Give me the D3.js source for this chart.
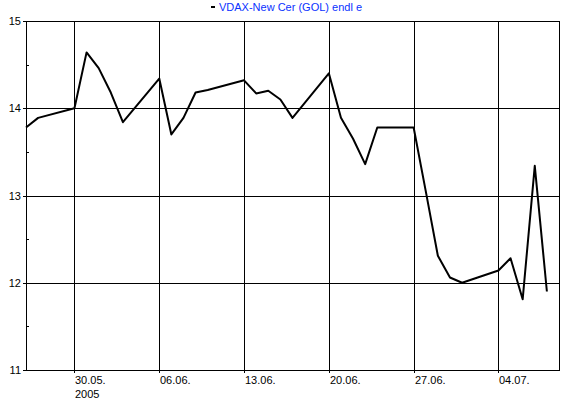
<!DOCTYPE html>
<html>
<head>
<meta charset="utf-8">
<script src="https://cdn.jsdelivr.net/npm/d3@7"></script>
<style>
  body { margin: 0; background: #fff; }
  text { font-family: "Liberation Sans", Arial, sans-serif; font-size: 11px; }
</style>
</head>
<body>
<div id="chart"></div>
<script>
// closing values, one per trading day
let dates = ["2005-05-26", "2005-05-27", "2005-05-30", "2005-05-31", "2005-06-01", "2005-06-02", "2005-06-03",
    "2005-06-06", "2005-06-07", "2005-06-08", "2005-06-09", "2005-06-10",
    "2005-06-13", "2005-06-14", "2005-06-15", "2005-06-16", "2005-06-17",
    "2005-06-20", "2005-06-21", "2005-06-22", "2005-06-23", "2005-06-24",
    "2005-06-27", "2005-06-28", "2005-06-29", "2005-06-30", "2005-07-01",
    "2005-07-04", "2005-07-05", "2005-07-06", "2005-07-07", "2005-07-08"]
let values = [13.78, 13.89, 14.0, 14.64, 14.46, 14.18, 13.84,
    14.34, 13.70, 13.89, 14.18, 14.21,
    14.32, 14.17, 14.20, 14.10, 13.89,
    14.40, 13.89, 13.65, 13.36, 13.78,
    13.78, 13.05, 12.31, 12.06, 12.0,
    12.14, 12.28, 11.81, 13.34, 11.9]
let xTicks = ["2005-05-30", "2005-06-06", "2005-06-13", "2005-06-20", "2005-06-27", "2005-07-04"]
let xTickLabels = ["30.05.", "06.06.", "13.06.", "20.06.", "27.06.", "04.07."]
let yTicks = [11, 12, 13, 14, 15]
let yMinorTicks = [11.5, 12.5, 13.5, 14.5]
let title = "VDAX-New Cer (GOL) endl e"

createVis()

function createVis() {
    var width = 570, height = 400
    var left = 26, right = 559, top = 21, bottom = 370
    var parse = d3.utcParse("%Y-%m-%d")

    var data = dates.map(function (d, i) { return { date: parse(d), value: values[i] } })

    var svg = d3.select("#chart").append("svg")
        .attr("width", width)
        .attr("height", height)

    var x = d3.scaleUtc()
        .domain([parse("2005-05-26"), parse("2005-07-09")])
        .range([left, right])
    var y = d3.scaleLinear()
        .domain([11, 15])
        .range([bottom, top])

    // grid lines
    svg.selectAll("hgrid").data(yTicks).enter().append("line")
        .attr("x1", left).attr("x2", right)
        .attr("y1", function (d) { return y(d) + 0.5 })
        .attr("y2", function (d) { return y(d) + 0.5 })
        .attr("stroke", "#000").attr("shape-rendering", "crispEdges")
    svg.selectAll("vgrid").data(xTicks).enter().append("line")
        .attr("x1", function (d) { return Math.round(x(parse(d))) + 0.5 })
        .attr("x2", function (d) { return Math.round(x(parse(d))) + 0.5 })
        .attr("y1", top).attr("y2", bottom + 3)
        .attr("stroke", "#000").attr("shape-rendering", "crispEdges")

    // frame
    svg.append("rect")
        .attr("x", left + 0.5).attr("y", top + 0.5)
        .attr("width", right - left).attr("height", bottom - top)
        .attr("fill", "none").attr("stroke", "#000").attr("shape-rendering", "crispEdges")

    // y ticks and labels
    svg.selectAll("ytick").data(yTicks).enter().append("line")
        .attr("x1", left - 3).attr("x2", left)
        .attr("y1", function (d) { return y(d) + 0.5 })
        .attr("y2", function (d) { return y(d) + 0.5 })
        .attr("stroke", "#000").attr("shape-rendering", "crispEdges")
    svg.selectAll("yminor").data(yMinorTicks).enter().append("line")
        .attr("x1", left).attr("x2", left + 3)
        .attr("y1", function (d) { return Math.round(y(d)) + 0.5 })
        .attr("y2", function (d) { return Math.round(y(d)) + 0.5 })
        .attr("stroke", "#000").attr("shape-rendering", "crispEdges")
    svg.selectAll("ylabel").data(yTicks).enter().append("text")
        .attr("x", left - 5)
        .attr("y", function (d) { return y(d) + 4 })
        .attr("text-anchor", "end")
        .attr("fill", "#000")
        .text(function (d) { return d })

    // x labels
    svg.selectAll("xlabel").data(xTicks).enter().append("text")
        .attr("x", function (d) { return Math.round(x(parse(d))) + 1 })
        .attr("y", bottom + 14)
        .attr("fill", "#000")
        .text(function (d, i) { return xTickLabels[i] })
    svg.append("text")
        .attr("x", Math.round(x(parse(xTicks[0]))) + 1)
        .attr("y", bottom + 28)
        .attr("fill", "#000")
        .text("2005")

    // line
    var line = d3.line()
        .x(function (d) { return x(d.date) })
        .y(function (d) { return y(d.value) })
    svg.append("path")
        .datum(data)
        .attr("d", line)
        .attr("fill", "none")
        .attr("stroke", "#000")
        .attr("stroke-width", 2)
        .attr("stroke-linejoin", "round")

    // legend
    svg.append("line")
        .attr("x1", 211).attr("x2", 215)
        .attr("y1", 7).attr("y2", 7)
        .attr("stroke", "#000").attr("stroke-width", 2)
    svg.append("text")
        .attr("x", 219).attr("y", 11)
        .attr("fill", "#0a32ff")
        .text(title)
}
</script>
</body>
</html>
